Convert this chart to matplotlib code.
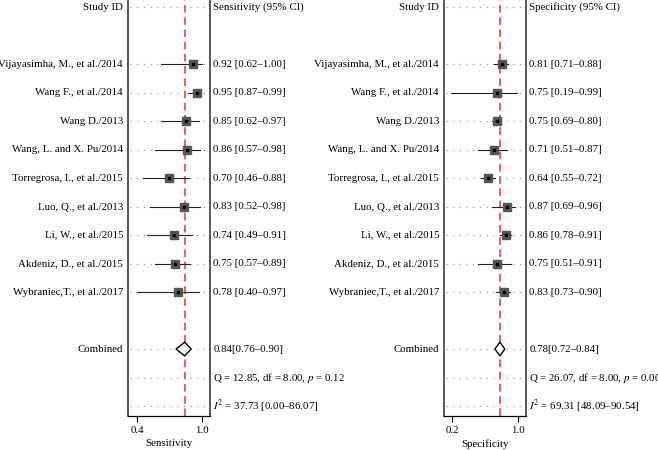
import matplotlib
matplotlib.use("Agg")
import matplotlib.pyplot as plt
from matplotlib.patches import Polygon
import matplotlib.transforms as mtransforms

plt.rcParams['font.family'] = ['Liberation Serif', 'DejaVu Serif']
plt.rcParams['mathtext.fontset'] = 'stix'

studies = ["Vijayasimha, M., et al./2014", "Wang F., et al./2014", "Wang D./2013",
           "Wang, L. and X. Pu/2014", "Torregrosa, I., et al./2015", "Luo, Q., et al./2013",
           "Li, W., et al./2015", "Akdeniz, D., et al./2015", "Wybraniec,T., et al./2017"]

sens_est = [0.92, 0.95, 0.85, 0.86, 0.70, 0.83, 0.74, 0.75, 0.78]
sens_lo = [0.62, 0.87, 0.62, 0.57, 0.46, 0.52, 0.49, 0.57, 0.40]
sens_hi = [1.00, 0.99, 0.97, 0.98, 0.88, 0.98, 0.91, 0.89, 0.97]
sens_comb = [0.84, 0.76, 0.90]
sens_q = "Q = 12.85, df = 8.00, $p$ = 0.12"
sens_i2 = "$I^2$ = 37.73 [0.00–86.07]"

spec_est = [0.81, 0.75, 0.75, 0.71, 0.64, 0.87, 0.86, 0.75, 0.83]
spec_lo = [0.71, 0.19, 0.69, 0.51, 0.55, 0.69, 0.78, 0.51, 0.73]
spec_hi = [0.88, 0.99, 0.80, 0.87, 0.72, 0.96, 0.91, 0.91, 0.90]
spec_comb = [0.78, 0.72, 0.84]
spec_q = "Q = 26.07, df = 8.00, $p$ = 0.00"
spec_i2 = "$I^2$ = 69.31 [48.09–90.54]"

W, H = 658, 450
fig = plt.figure(figsize=(W / 100, H / 100), dpi=100)

FS = 7.8

def panel(left_px, xlim, ticks, xlabel, header, est, lo, hi, comb, qtxt, i2txt):
    ax = fig.add_axes([left_px / W, 1 - 416 / H, 82 / W, 416 / H])
    ax.set_xlim(*xlim)
    ax.set_ylim(14.35, -0.25)
    ax.set_yticks([])
    ax.set_xticks(ticks)
    ax.set_xticklabels([f"{t:.1f}" for t in ticks], fontsize=FS)
    ax.tick_params(axis='x', length=4, width=0.8, pad=3, direction='out')
    ax.set_xlabel(xlabel, fontsize=FS, labelpad=3)
    ax.spines['top'].set_visible(False)
    for s in ['left', 'right']:
        ax.spines[s].set_color('#4a4a4a')
        ax.spines[s].set_linewidth(1.3)
    ax.spines['bottom'].set_linewidth(0.9)

    rows = [0] + list(range(2, 11)) + [12, 13, 14]
    x0, x1 = xlim
    pad = (x1 - x0) * 0.03
    for r in rows:
        ax.plot([x0 + pad, x1 - pad], [r, r], color='#8a8a8a', lw=0.8,
                linestyle=(0, (1, 5)), zorder=1)

    ax.axvline(comb[0], color='#e8323a', lw=1.1, linestyle=(0, (5, 3)), zorder=2)

    tr = mtransforms.blended_transform_factory(ax.transAxes, ax.transData)
    lx = -0.06
    rx = 1.04
    ax.text(lx, 0, "Study ID", transform=tr, ha='right', va='center', fontsize=FS, clip_on=False)
    ax.text(rx, 0, header, transform=tr, ha='left', va='center', fontsize=FS, clip_on=False)

    for i, name in enumerate(studies):
        y = i + 2
        ax.plot([lo[i], hi[i]], [y, y], color='#222222', lw=0.8, zorder=3)
        ax.plot(est[i], y, marker='s', ms=5.5, color='#555555', mec='#555555', zorder=4)
        ax.plot(est[i], y, marker='s', ms=1.8, color='black', zorder=5)
        ax.text(lx, y, name, transform=tr, ha='right', va='center', fontsize=FS, clip_on=False)
        ax.text(rx, y, f"{est[i]:.2f} [{lo[i]:.2f}–{hi[i]:.2f}]", transform=tr,
                ha='left', va='center', fontsize=FS, clip_on=False)

    c, clo, chi = comb
    d = Polygon([[clo, 12], [c, 11.76], [chi, 12], [c, 12.24]], closed=True,
                facecolor='white', edgecolor='black', lw=1.0, zorder=5)
    ax.add_patch(d)
    ax.text(lx, 12, "Combined", transform=tr, ha='right', va='center', fontsize=FS, clip_on=False)
    ax.text(rx, 12, f"{c:.2f}[{clo:.2f}–{chi:.2f}]", transform=tr, ha='left', va='center',
            fontsize=FS, clip_on=False)
    ax.text(rx, 13, qtxt, transform=tr, ha='left', va='center', fontsize=FS, clip_on=False)
    ax.text(rx, 14, i2txt, transform=tr, ha='left', va='center', fontsize=FS, clip_on=False)
    return ax

panel(128, (0.317, 1.074), [0.4, 1.0], "Sensitivity", "Sensitivity (95% CI)",
      sens_est, sens_lo, sens_hi, sens_comb, sens_q, sens_i2)
panel(444, (0.103, 1.097), [0.2, 1.0], "Specificity", "Specificity (95% CI)",
      spec_est, spec_lo, spec_hi, spec_comb, spec_q, spec_i2)

fig.savefig("out.png", dpi=100)
